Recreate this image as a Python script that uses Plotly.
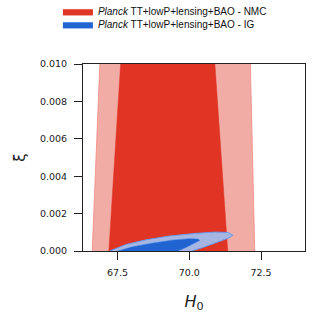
import plotly.graph_objects as go

# contour outlines (H0, xi)
nmc95_h0 = [66.62, 66.90, 72.12, 72.28]
nmc95_xi = [0.0, 0.0105, 0.0105, 0.0]
nmc68_h0 = [67.20, 67.63, 70.87, 71.34]
nmc68_xi = [0.0, 0.0105, 0.0105, 0.0]

ig95_h0 = [67.23, 67.8, 68.5, 69.3, 70.2, 70.9, 71.35, 71.52, 71.35, 70.9, 70.5, 70.08]
ig95_xi = [0.0, 0.00035, 0.0006, 0.0008, 0.00094, 0.00101, 0.00099, 0.00084, 0.00068, 0.00042, 0.0002, 0.0]
ig68_h0 = [67.52, 68.0, 68.7, 69.4, 70.0, 70.3, 70.37, 70.2, 69.9, 69.6]
ig68_xi = [0.0, 0.00022, 0.00042, 0.00058, 0.00066, 0.00064, 0.00057, 0.00042, 0.0002, 0.0]

x_ticks = [67.5, 70.0, 72.5]
y_ticks = [0.0, 0.002, 0.004, 0.006, 0.008, 0.010]

nmc_name = "<i>Planck</i> TT+lowP+lensing+BAO - NMC"
ig_name = "<i>Planck</i> TT+lowP+lensing+BAO - IG"

fig = go.Figure()
fig.add_trace(go.Scatter(x=nmc95_h0, y=nmc95_xi, fill="toself", mode="lines",
                         fillcolor="#f2aca6", line=dict(color="#f08a80", width=0.8),
                         showlegend=False, hoverinfo="skip"))
fig.add_trace(go.Scatter(x=nmc68_h0, y=nmc68_xi, fill="toself", mode="lines",
                         fillcolor="#e03424", line=dict(color="#e03424", width=0.5),
                         name=nmc_name, legend="legend"))
fig.add_trace(go.Scatter(x=ig95_h0, y=ig95_xi, fill="toself", mode="lines",
                         fillcolor="#a6b6e2", line=dict(color="#6a9be8", width=1),
                         showlegend=False, hoverinfo="skip"))
fig.add_trace(go.Scatter(x=ig68_h0, y=ig68_xi, fill="toself", mode="lines",
                         fillcolor="#2163d0", line=dict(color="#2b7de9", width=0.5),
                         name=ig_name, legend="legend2"))

leg = dict(x=-0.113, xanchor="left", yanchor="middle",
           font=dict(family="Liberation Sans", size=10, color="#111"),
           itemwidth=30, bgcolor="rgba(0,0,0,0)")
fig.update_layout(
    width=332, height=331,
    margin=dict(l=83, r=27.3, t=64, b=80.3, autoexpand=False),
    paper_bgcolor="white", plot_bgcolor="white",
    font=dict(family="DejaVu Sans", size=9.5, color="#222"),
    legend=dict(leg, y=1.281),
    legend2=dict(leg, y=1.2116),
)
fig.update_xaxes(range=[66.3, 74.03], tickvals=x_ticks, ticktext=["67.5", "70.0", "72.5"],
                 ticks="outside", ticklen=8, tickwidth=1.2, tickcolor="#222",
                 ticklabelstandoff=5, showgrid=False, zeroline=False,
                 showline=True, linecolor="#222", linewidth=1, mirror=True,
                 title=dict(text="<i>H</i><sub>0</sub>", font=dict(size=16), standoff=18))
fig.update_yaxes(range=[0, 0.010], tickvals=y_ticks, tickformat=".3f",
                 ticks="outside", ticklen=8, tickwidth=1.2, tickcolor="#222",
                 ticklabelstandoff=5, showgrid=False, zeroline=False,
                 showline=True, linecolor="#222", linewidth=1, mirror=True,
                 title=dict(text="ξ", font=dict(size=15), standoff=10))

fig.write_html("out.html", config={"displayModeBar": False},
               post_script="document.body.style.margin='0';")
